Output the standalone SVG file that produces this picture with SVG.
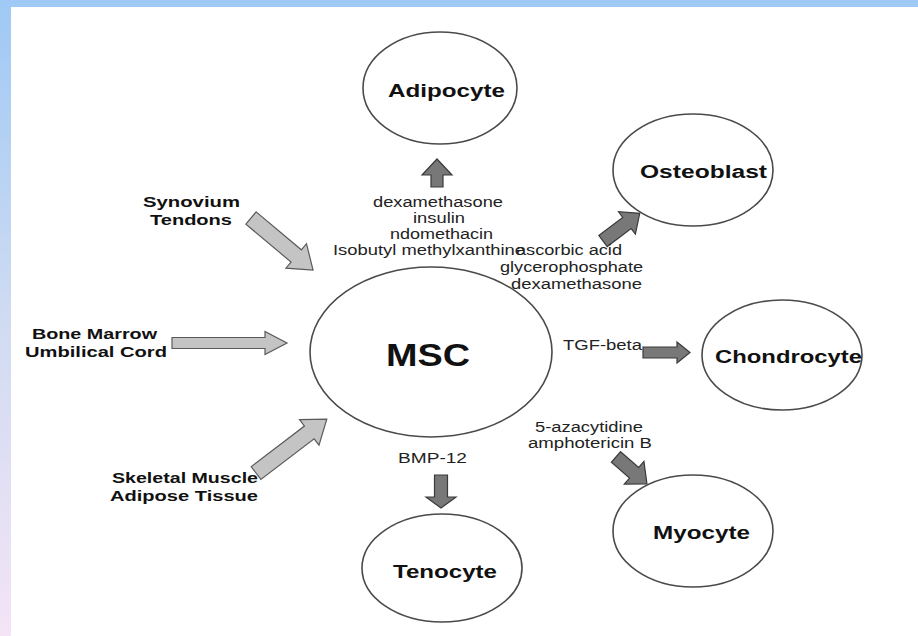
<svg xmlns="http://www.w3.org/2000/svg" width="918" height="636" viewBox="0 0 918 636">
<defs>
<linearGradient id="side" x1="0" y1="0" x2="0" y2="1">
<stop offset="0" stop-color="#9FC9F5"/>
<stop offset="0.5" stop-color="#CFDBF2"/>
<stop offset="1" stop-color="#F4E4F6"/>
</linearGradient>
<style>
.cell{fill:#fff;stroke:#4a4a4a;stroke-width:1.6}
.lbl{font-family:"Liberation Sans",Arial,sans-serif;font-weight:bold;font-size:18px;fill:#111}
.big{font-size:32px}
.src{font-family:"Liberation Sans",Arial,sans-serif;font-weight:bold;font-size:15px;fill:#111}
.fac{font-family:"Liberation Sans",Arial,sans-serif;font-size:14px;fill:#222}
.inA{fill:#c4c4c4;stroke:#5a5a5a;stroke-width:1.2;stroke-linejoin:miter}
.outA{fill:#787878;stroke:#3a3a3a;stroke-width:1.2;stroke-linejoin:miter}
</style>
</defs>
<rect x="0" y="0" width="918" height="636" fill="#fff"/>
<rect x="0" y="0" width="11" height="636" fill="url(#side)"/>
<rect x="0" y="0" width="918" height="7" fill="#9FCAF6"/>

<g id="connectors">
<polygon class="inA" transform="translate(251,218) rotate(40)" points="0,-8 59,-8 59,-16 81,0 59,16 59,8 0,8"/>
<polygon class="inA" transform="translate(172,343)" points="0,-5.5 93,-5.5 93,-11.5 115,0 93,11.5 93,5.5 0,5.5"/>
<polygon class="inA" transform="translate(256,473) rotate(-37.3)" points="0,-8 67,-8 67,-16 89,0 67,16 67,8 0,8"/>
<polygon class="outA" transform="translate(437,187) rotate(-90)" points="0,-6 12,-6 12,-15 28,0 12,15 12,6 0,6"/>
<polygon class="outA" transform="translate(603,241) rotate(-37)" points="0,-7 30,-7 30,-14 46,0 30,14 30,7 0,7"/>
<polygon class="outA" transform="translate(643,352.5)" points="0,-5.5 34,-5.5 34,-10.5 47,0 34,10.5 34,5.5 0,5.5"/>
<polygon class="outA" transform="translate(616,457) rotate(41)" points="0,-7 24,-7 24,-15 41,0 24,15 24,7 0,7"/>
<polygon class="outA" transform="translate(441,475) rotate(90)" points="0,-6.5 22,-6.5 22,-15 33,0 22,15 22,6.5 0,6.5"/>
</g>

<g id="msc">
<ellipse class="cell" cx="431" cy="352" rx="121" ry="85"/>
<text class="lbl big" x="386" y="366" textLength="84" lengthAdjust="spacingAndGlyphs">MSC</text>
</g>
<g id="adipocyte">
<ellipse class="cell" cx="440" cy="88" rx="77" ry="56"/>
<text class="lbl" x="388" y="97" textLength="117" lengthAdjust="spacingAndGlyphs">Adipocyte</text>
</g>
<g id="osteoblast">
<ellipse class="cell" cx="693" cy="170" rx="80" ry="56"/>
<text class="lbl" x="640" y="178" textLength="127" lengthAdjust="spacingAndGlyphs">Osteoblast</text>
</g>
<g id="chondrocyte">
<ellipse class="cell" cx="782" cy="355" rx="80" ry="55"/>
<text class="lbl" x="715" y="363" textLength="147" lengthAdjust="spacingAndGlyphs">Chondrocyte</text>
</g>
<g id="myocyte">
<ellipse class="cell" cx="693" cy="531" rx="80" ry="56"/>
<text class="lbl" x="653" y="539" textLength="97" lengthAdjust="spacingAndGlyphs">Myocyte</text>
</g>
<g id="tenocyte">
<ellipse class="cell" cx="442" cy="568" rx="80" ry="54"/>
<text class="lbl" x="393" y="578" textLength="104" lengthAdjust="spacingAndGlyphs">Tenocyte</text>
</g>

<g id="sources">
<text class="src" x="143" y="207" textLength="97" lengthAdjust="spacingAndGlyphs">Synovium</text>
<text class="src" x="150" y="225" textLength="82" lengthAdjust="spacingAndGlyphs">Tendons</text>
<text class="src" x="32" y="339" textLength="125" lengthAdjust="spacingAndGlyphs">Bone Marrow</text>
<text class="src" x="25" y="357" textLength="142" lengthAdjust="spacingAndGlyphs">Umbilical Cord</text>
<text class="src" x="112" y="483" textLength="146" lengthAdjust="spacingAndGlyphs">Skeletal Muscle</text>
<text class="src" x="110" y="501" textLength="148" lengthAdjust="spacingAndGlyphs">Adipose Tissue</text>
</g>

<g id="factors">
<text class="fac" x="373" y="207" textLength="130" lengthAdjust="spacingAndGlyphs">dexamethasone</text>
<text class="fac" x="413" y="223" textLength="52" lengthAdjust="spacingAndGlyphs">insulin</text>
<text class="fac" x="390" y="239" textLength="103" lengthAdjust="spacingAndGlyphs">ndomethacin</text>
<text class="fac" x="333" y="255" textLength="192" lengthAdjust="spacingAndGlyphs">Isobutyl methylxanthine</text>
<text class="fac" x="516" y="255" textLength="106" lengthAdjust="spacingAndGlyphs">ascorbic acid</text>
<text class="fac" x="500" y="272" textLength="143" lengthAdjust="spacingAndGlyphs">glycerophosphate</text>
<text class="fac" x="511" y="289" textLength="131" lengthAdjust="spacingAndGlyphs">dexamethasone</text>
<text class="fac" x="563" y="350" textLength="79" lengthAdjust="spacingAndGlyphs">TGF-beta</text>
<text class="fac" x="535" y="432" textLength="108" lengthAdjust="spacingAndGlyphs">5-azacytidine</text>
<text class="fac" x="528" y="448" textLength="124" lengthAdjust="spacingAndGlyphs">amphotericin B</text>
<text class="fac" x="398" y="463" textLength="69" lengthAdjust="spacingAndGlyphs">BMP-12</text>
</g>
</svg>
